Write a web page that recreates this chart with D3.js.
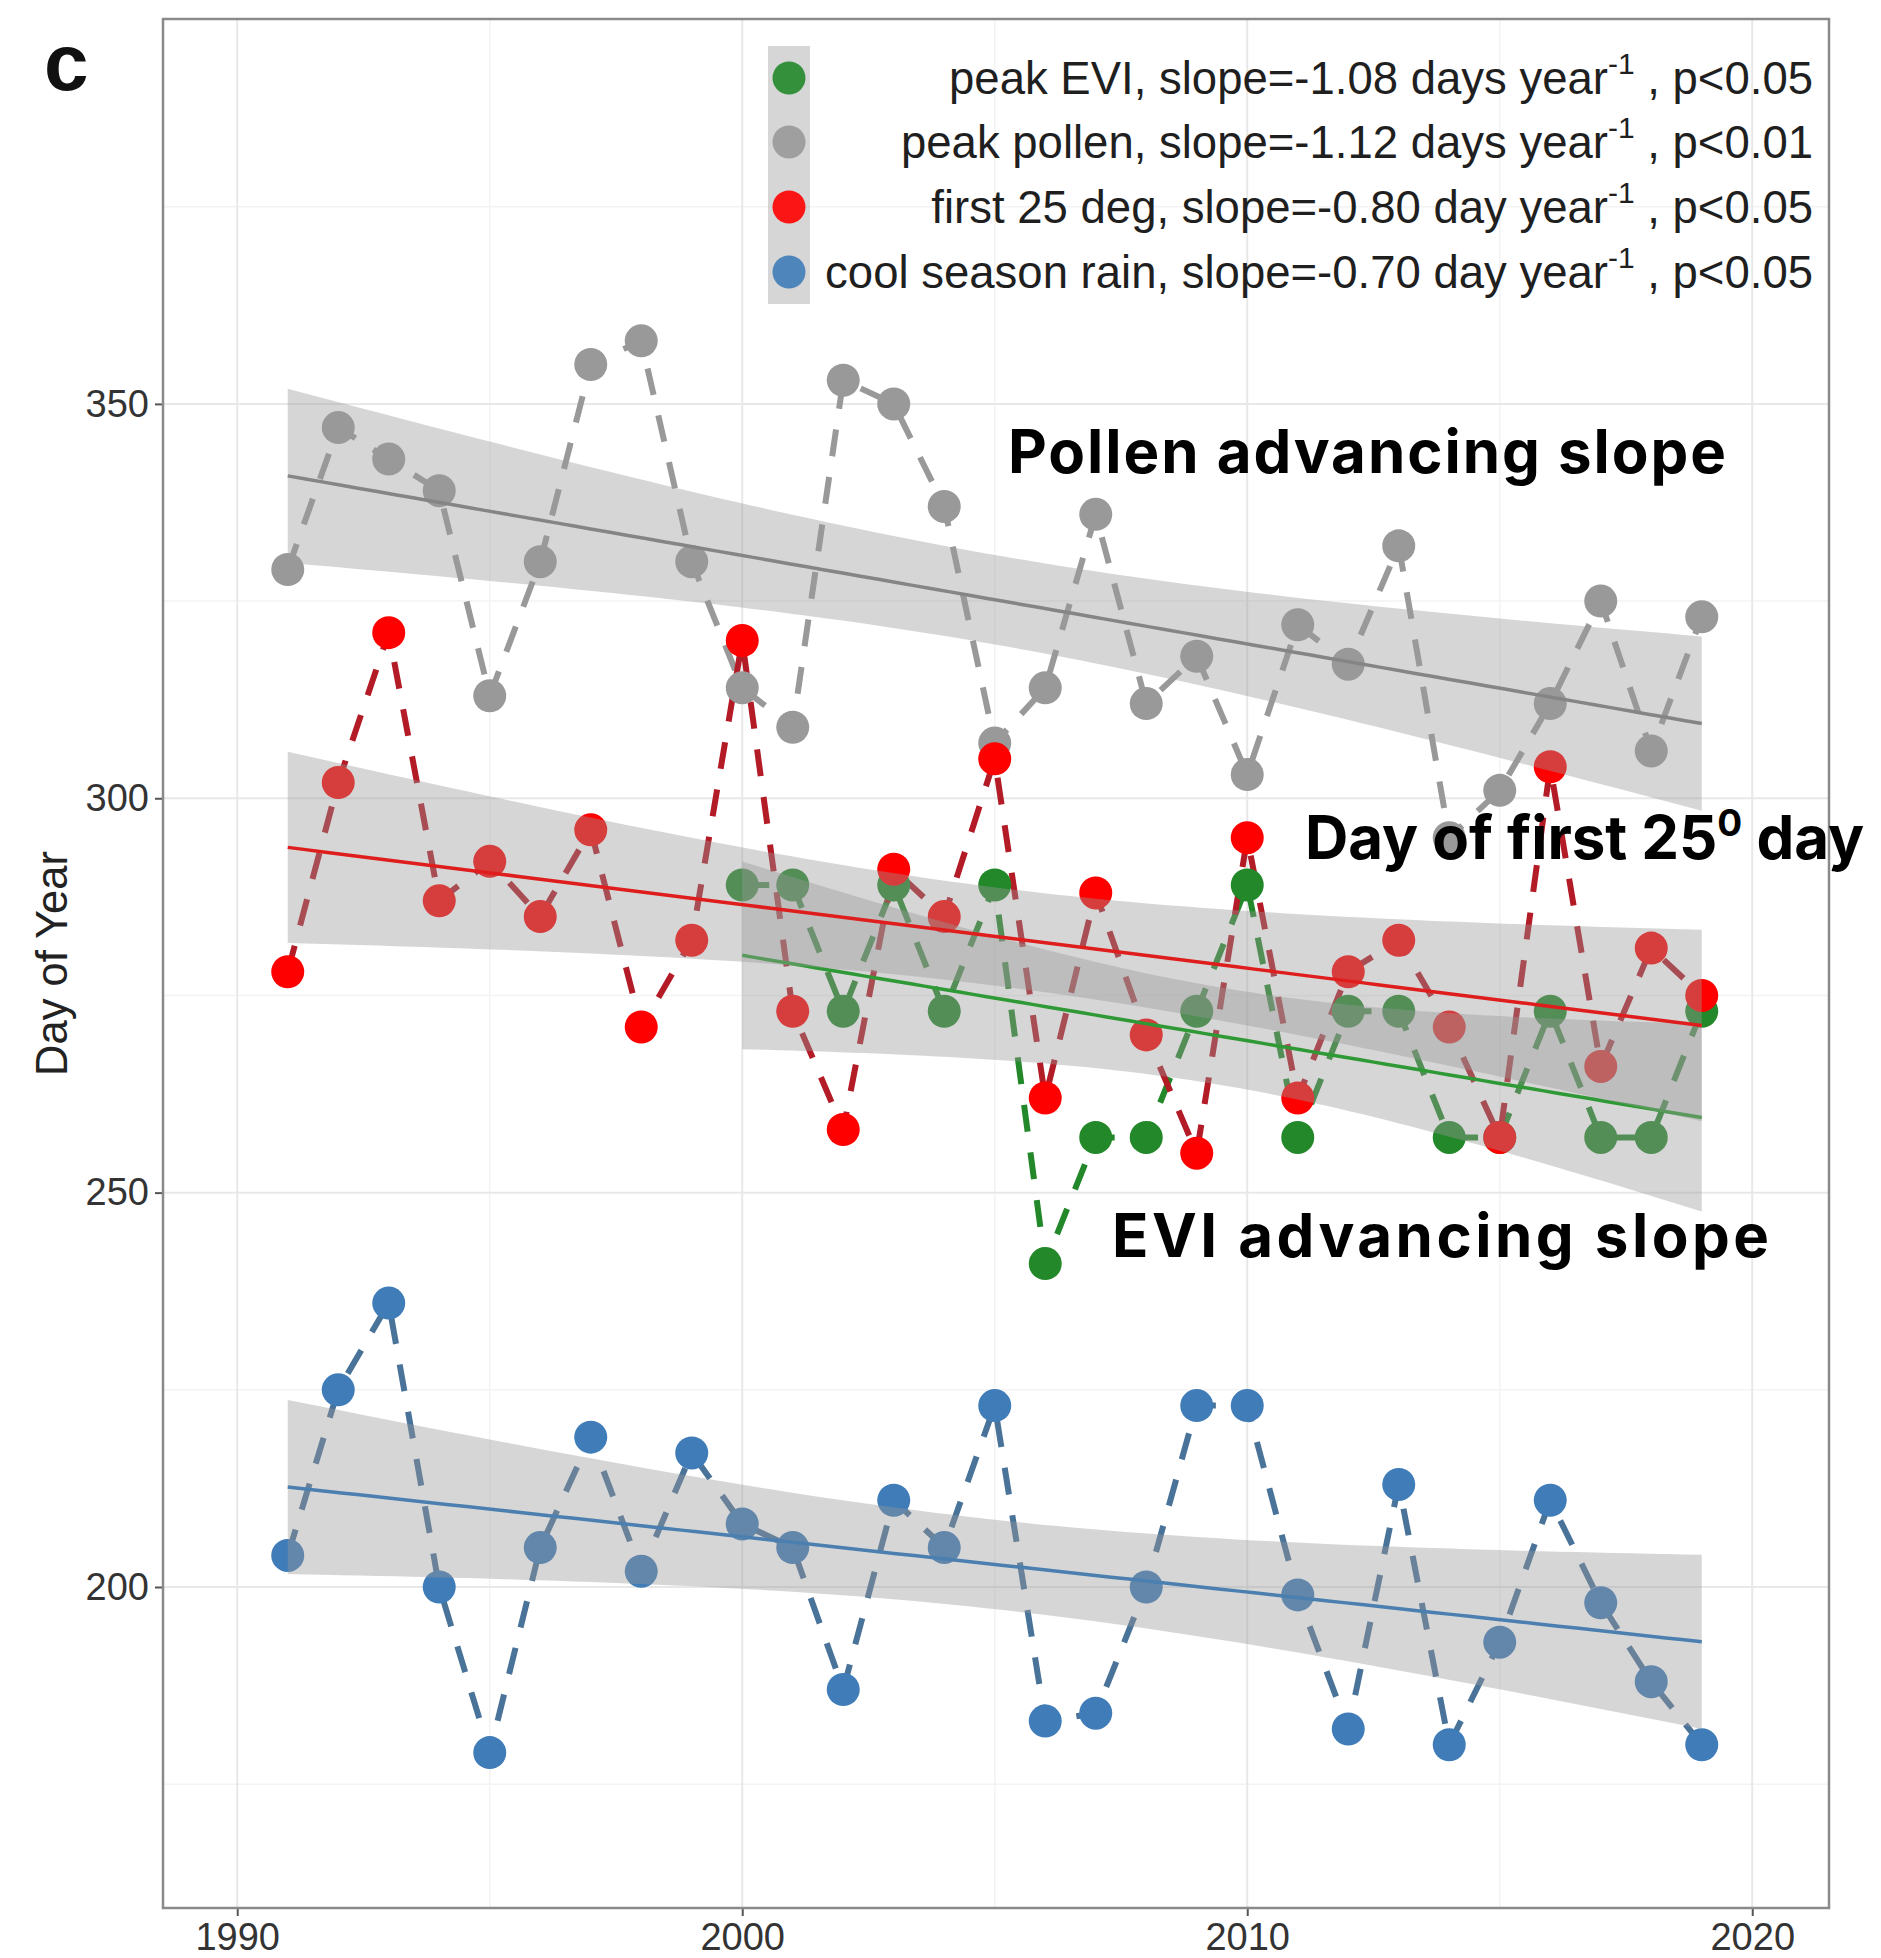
<!DOCTYPE html>
<html>
<head>
<meta charset="utf-8">
<script src="https://cdn.jsdelivr.net/npm/d3@7"></script>
<style>
  body { margin: 0; background: #fff; }
  svg { display: block; }
</style>
</head>
<body>
<div id="chart"></div>
<script>
// ---- data (day of year) ----
var years = [1991,1992,1993,1994,1995,1996,1997,1998,1999,2000,2001,2002,2003,2004,2005,
             2006,2007,2008,2009,2010,2011,2012,2013,2014,2015,2016,2017,2018,2019]
var evi_years = [2000,2001,2002,2003,2004,2005,2006,2007,2008,2009,2010,2011,2012,2013,2014,
                 2015,2016,2017,2018,2019]

var peak_evi = [289,289,273,289,273,289,241,257,257,273,289,257,273,273,257,257,273,257,257,273]
var peak_pollen = [329,347,343,339,313,330,355,358,330,314,309,353,350,337,307,314,336,312,318,303,
                   322,317,332,295,301,312,325,306,323]
var first_25 = [278,302,321,287,292,285,296,271,282,320,273,258,291,285,305,262,288,270,255,295,
                262,278,282,271,257,304,266,281,275]
var cool_rain = [204,225,236,200,179,205,219,202,217,208,205,187,211,205,223,183,184,200,223,223,
                 199,182,213,180,193,211,198,188,180]

var legend_labels = [
  ["peak EVI, slope=-1.08 days year", "-1", " , p<0.05"],
  ["peak pollen, slope=-1.12 days year", "-1", " , p<0.01"],
  ["first 25 deg, slope=-0.80 day year", "-1", " , p<0.05"],
  ["cool season rain, slope=-0.70 day year", "-1", " , p<0.05"]
]
var x_ticks = [1990, 2000, 2010, 2020]
var y_ticks = [200, 250, 300, 350]
var y_minor = [175, 225, 275, 325, 375]
var x_minor = [1995, 2005, 2015]

// series in legend order
var series = [
  {name: "evi",    xs: evi_years, ys: peak_evi,    col: "#23882a", line: "#23882a", fit: "#2f9a35"},
  {name: "pollen", xs: years,     ys: peak_pollen, col: "#999999", line: "#999999", fit: "#858585"},
  {name: "t25",    xs: years,     ys: first_25,    col: "#ff0000", line: "#b31b26", fit: "#e01d1d"},
  {name: "rain",   xs: years,     ys: cool_rain,   col: "#3f7cb8", line: "#4a7399", fit: "#4a7fb0"}
]

var W = 1881, H = 1958
var margin = {top: 19, right: 52, bottom: 50, left: 163}

var x_scale = d3.scaleLinear()
    .domain([1988.53, 2021.52])
    .range([margin.left, W - margin.right])

var y_scale = d3.scaleLinear()
    .domain([159.3, 398.8])
    .range([H - margin.bottom, margin.top])

var svg = d3.select("#chart").append("svg")
    .attr("width", W)
    .attr("height", H)
    .style("font-family", "'Liberation Sans', Arial, sans-serif")

var x0 = x_scale.range()[0], x1 = x_scale.range()[1]
var y0 = y_scale.range()[1], y1 = y_scale.range()[0]

// grid
svg.append("g").selectAll("line").data(y_minor).enter().append("line")
    .attr("x1", x0).attr("x2", x1)
    .attr("y1", d => y_scale(d)).attr("y2", d => y_scale(d))
    .style("stroke", "#f3f3f3").style("stroke-width", 1.5)
svg.append("g").selectAll("line").data(x_minor).enter().append("line")
    .attr("y1", y0).attr("y2", y1)
    .attr("x1", d => x_scale(d)).attr("x2", d => x_scale(d))
    .style("stroke", "#f3f3f3").style("stroke-width", 1.5)
svg.append("g").selectAll("line").data(y_ticks).enter().append("line")
    .attr("x1", x0).attr("x2", x1)
    .attr("y1", d => y_scale(d)).attr("y2", d => y_scale(d))
    .style("stroke", "#e8e8e8").style("stroke-width", 2)
svg.append("g").selectAll("line").data(x_ticks).enter().append("line")
    .attr("y1", y0).attr("y2", y1)
    .attr("x1", d => x_scale(d)).attr("x2", d => x_scale(d))
    .style("stroke", "#e8e8e8").style("stroke-width", 2)

// legend (transparent background, inside the panel)
var leg_x = 789, leg_rows = [78, 142, 207, 272]
svg.append("rect")
    .attr("x", 768).attr("y", 46)
    .attr("width", 42).attr("height", 258)
    .style("fill", "#999").style("opacity", 0.4)

series.forEach(function(s, i) {
  svg.append("circle")
      .attr("cx", leg_x).attr("cy", leg_rows[i]).attr("r", 16.5)
      .style("fill", s.col).style("opacity", 0.9)
  var t = svg.append("text")
      .attr("x", 1813).attr("y", leg_rows[i] + 16)
      .attr("text-anchor", "end")
      .style("font-size", "45.5px").style("fill", "#1f1f1f")
  t.append("tspan").text(legend_labels[i][0])
  t.append("tspan").attr("dy", -20).style("font-size", "30px").text(legend_labels[i][1])
  t.append("tspan").attr("dy", 20).text(legend_labels[i][2])
})

// dashed connecting lines
var plot_line = d3.line()
    .x(d => x_scale(d[0]))
    .y(d => y_scale(d[1]))

series.forEach(function(s) {
  var pts = s.xs.map((x, i) => [x, s.ys[i]])
  svg.append("path")
      .datum(pts)
      .attr("d", plot_line)
      .style("fill", "none")
      .style("stroke", s.line)
      .style("stroke-width", 6)
      .style("stroke-dasharray", "27,21")
})

// points
series.forEach(function(s) {
  svg.append("g").selectAll("circle")
      .data(s.xs.map((x, i) => [x, s.ys[i]]))
      .enter().append("circle")
      .attr("cx", d => x_scale(d[0]))
      .attr("cy", d => y_scale(d[1]))
      .attr("r", 16.5)
      .style("fill", s.col)
})

// linear fit with 95% band (like geom_smooth(method = "lm"))
function t975(df) {
  var z = 1.959964
  return z + (z*z*z + z) / (4*df) + (5*Math.pow(z,5) + 16*z*z*z + 3*z) / (96*df*df)
}
function fit_lm(xs, ys) {
  var n = xs.length
  var xbar = d3.mean(xs), ybar = d3.mean(ys)
  var sxx = d3.sum(xs, x => (x - xbar) * (x - xbar))
  var sxy = d3.sum(xs, (x, i) => (x - xbar) * (ys[i] - ybar))
  var b = sxy / sxx, a = ybar - b * xbar
  var rss = d3.sum(xs, (x, i) => Math.pow(ys[i] - (a + b * x), 2))
  var s = Math.sqrt(rss / (n - 2))
  var t = t975(n - 2)
  return function(x) {
    var yh = a + b * x
    var se = s * Math.sqrt(1/n + (x - xbar) * (x - xbar) / sxx)
    return {x: x, y: yh, lo: yh - t * se, hi: yh + t * se}
  }
}

var band = d3.area()
    .x(d => x_scale(d.x))
    .y0(d => y_scale(d.lo))
    .y1(d => y_scale(d.hi))
var fit_line = d3.line()
    .x(d => x_scale(d.x))
    .y(d => y_scale(d.y))

series.forEach(function(s) {
  var f = fit_lm(s.xs, s.ys)
  var lo = d3.min(s.xs), hi = d3.max(s.xs)
  var grid = d3.range(80).map(k => f(lo + (hi - lo) * k / 79))
  svg.append("path").datum(grid).attr("d", band)
      .style("fill", "#999").style("opacity", 0.4)
  svg.append("path").datum(grid).attr("d", fit_line)
      .style("fill", "none").style("stroke", s.fit).style("stroke-width", 3.5)
})

// axes
var x_axis = svg.append("g")
    .attr("transform", "translate(0," + y1 + ")")
    .call(d3.axisBottom(x_scale).tickValues(x_ticks).tickFormat(d3.format("d")).tickSize(8).tickPadding(7))
var y_axis = svg.append("g")
    .attr("transform", "translate(" + x0 + ",0)")
    .call(d3.axisLeft(y_scale).tickValues(y_ticks).tickSize(8).tickPadding(6))
;[x_axis, y_axis].forEach(function(g) {
  g.select(".domain").remove()
  g.selectAll(".tick line").style("stroke", "#555").style("stroke-width", 2)
  g.selectAll(".tick text")
      .style("font-size", "38px").style("fill", "#333")
      .style("font-family", "'Liberation Sans', Arial, sans-serif")
})

// panel border
svg.append("rect")
    .attr("x", x0).attr("y", y0)
    .attr("width", x1 - x0).attr("height", y1 - y0)
    .style("fill", "none").style("stroke", "#8a8a8a").style("stroke-width", 2.5)

// axis title
svg.append("text")
    .attr("transform", "translate(52," + ((y0 + y1) / 2) + ") rotate(-90)")
    .attr("text-anchor", "middle")
    .attr("dy", "0.35em")
    .style("font-size", "43.5px").style("fill", "#222")
    .text("Day of Year")

// panel letter
svg.append("text")
    .attr("x", 44).attr("y", 90)
    .style("font-size", "80px").style("font-weight", "bold").style("fill", "#111")
    .text("c")

// annotations
function note(x, y, len, main, sup, rest) {
  var t = svg.append("text")
      .attr("x", x).attr("y", y)
      .attr("textLength", len)
      .attr("lengthAdjust", "spacing")
      .style("font-family", "Inter, 'Open Sans', sans-serif")
      .style("font-weight", 700)
      .style("font-size", "60px")
      .style("fill", "#000")
  t.append("tspan").text(main)
  if (sup) {
    t.append("tspan").attr("dy", -23).style("font-size", "37px").text(sup)
    t.append("tspan").attr("dy", 23).text(rest)
  }
}
note(1008, 473, 718, "Pollen advancing slope")
note(1305, 859, 559, "Day of first 25", "0", " day")
note(1112, 1257, 657, "EVI advancing slope")
</script>
</body>
</html>
